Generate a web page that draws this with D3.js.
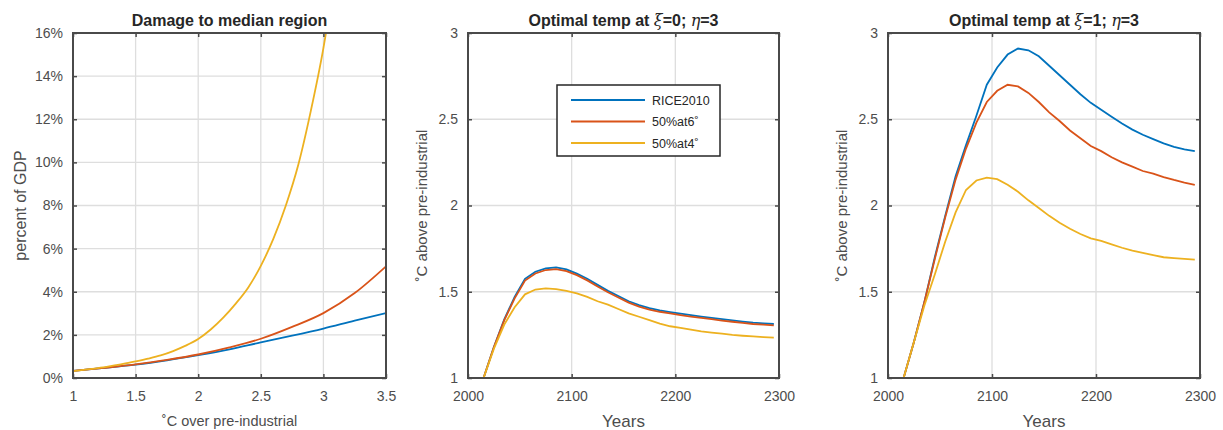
<!DOCTYPE html>
<html>
<head>
<meta charset="utf-8">
<script src="https://cdn.jsdelivr.net/npm/d3@7"></script>
<style>
  body { margin: 0; background: #fff; }
  svg { display: block; font-family: "Liberation Sans", Arial, sans-serif; }
</style>
</head>
<body>
<svg id="chart" width="1223" height="430"></svg>
<script>
// ---- data ----
const seriesNames = ["RICE2010", "50%at6\u02DA", "50%at4\u02DA"];
const seriesColors = ["#0072BD", "#D95319", "#EDB120"];

// panel 1: damage (% of GDP) vs degrees over pre-industrial
const tempBlueRed = [1.0, 1.25, 1.5, 1.75, 2.0, 2.25, 2.5, 2.75, 3.0, 3.25, 3.5];
const damageRice = [0.33, 0.47, 0.62, 0.82, 1.06, 1.33, 1.65, 1.96, 2.29, 2.66, 3.01];
const damage6 = [0.33, 0.47, 0.63, 0.84, 1.09, 1.42, 1.82, 2.37, 3.01, 3.94, 5.18];
const tempYellow = [1.0, 1.1, 1.2, 1.3, 1.4, 1.5, 1.6, 1.7, 1.8, 1.9, 2.0, 2.1, 2.2, 2.3, 2.4, 2.5, 2.6, 2.7, 2.8, 2.9, 3.0, 3.1];
const damage4 = [0.32, 0.39, 0.46, 0.55, 0.65, 0.77, 0.9, 1.05, 1.25, 1.5, 1.81, 2.25, 2.8, 3.45, 4.2, 5.2, 6.45, 8.0, 9.9, 12.4, 15.3, 19.0];

// panels 2 and 3: optimal temperature path
const years = [2015, 2025, 2035, 2045, 2055, 2065, 2075, 2085, 2095, 2105, 2115, 2125, 2135, 2145, 2155,
               2165, 2175, 2185, 2195, 2205, 2215, 2225, 2235, 2245, 2255, 2265, 2275, 2285, 2295];

const xi0Rice = [1.00, 1.18, 1.34, 1.47, 1.575, 1.616, 1.636, 1.641, 1.63, 1.605, 1.575, 1.54, 1.505, 1.475, 1.445,
                 1.422, 1.405, 1.392, 1.382, 1.373, 1.364, 1.356, 1.349, 1.341, 1.334, 1.327, 1.321, 1.317, 1.313];
const xi0At6 = [1.00, 1.18, 1.335, 1.462, 1.565, 1.606, 1.626, 1.631, 1.62, 1.596, 1.566, 1.531, 1.497, 1.467, 1.437,
                1.414, 1.397, 1.384, 1.374, 1.365, 1.356, 1.348, 1.341, 1.333, 1.326, 1.319, 1.313, 1.309, 1.305];
const xi0At4 = [1.00, 1.17, 1.31, 1.41, 1.485, 1.513, 1.52, 1.515, 1.505, 1.49, 1.47, 1.445, 1.425, 1.40, 1.375,
                1.355, 1.335, 1.315, 1.30, 1.29, 1.28, 1.27, 1.263, 1.257, 1.25, 1.245, 1.241, 1.237, 1.234];

const xi1Rice = [1.00, 1.21, 1.44, 1.70, 1.94, 2.17, 2.35, 2.52, 2.70, 2.80, 2.875, 2.91, 2.90, 2.865, 2.81,
                 2.755, 2.70, 2.645, 2.595, 2.555, 2.515, 2.475, 2.44, 2.41, 2.385, 2.36, 2.34, 2.325, 2.315];
const xi1At6 = [1.00, 1.21, 1.44, 1.69, 1.93, 2.15, 2.33, 2.48, 2.60, 2.665, 2.70, 2.69, 2.653, 2.60, 2.54,
                2.49, 2.435, 2.39, 2.345, 2.315, 2.28, 2.25, 2.225, 2.20, 2.185, 2.165, 2.148, 2.133, 2.12];
const xi1At4 = [1.00, 1.21, 1.42, 1.60, 1.79, 1.96, 2.09, 2.145, 2.162, 2.153, 2.12, 2.08, 2.03, 1.985, 1.94,
                1.90, 1.865, 1.835, 1.81, 1.795, 1.775, 1.755, 1.738, 1.725, 1.713, 1.70, 1.695, 1.69, 1.686];

const pctTicks = [0, 2, 4, 6, 8, 10, 12, 14, 16];
const tempTicks = [1, 1.5, 2, 2.5, 3, 3.5];
const yearTicks = [2000, 2100, 2200, 2300];
const degTicks = [1, 1.5, 2, 2.5, 3];

const svg = d3.select("#chart");
const plotTop = 33, plotBottom = 378;
const boxColor = "#4a4a4a";
const textColor = "#4d4d4d";

function drawPanel(p) {
    const x = d3.scaleLinear(p.xDomain, [p.left, p.right]);
    const y = d3.scaleLinear(p.yDomain, [plotBottom, plotTop]);
    const g = svg.append("g");

    // grid
    g.selectAll("line.gx").data(p.xTicks).join("line")
        .attr("x1", d => x(d)).attr("x2", d => x(d))
        .attr("y1", plotTop).attr("y2", plotBottom)
        .attr("stroke", "#dedede").attr("stroke-width", 1.3);
    g.selectAll("line.gy").data(p.yTicks).join("line")
        .attr("y1", d => y(d)).attr("y2", d => y(d))
        .attr("x1", p.left).attr("x2", p.right)
        .attr("stroke", "#dedede").attr("stroke-width", 1.3);

    // curves, clipped to the axes box
    const clipId = "clip" + p.id;
    svg.append("clipPath").attr("id", clipId)
        .append("rect")
        .attr("x", p.left).attr("y", plotTop)
        .attr("width", p.right - p.left).attr("height", plotBottom - plotTop);

    const line = d3.line().curve(p.curve || d3.curveLinear)
        .x(d => x(d[0])).y(d => y(d[1]));
    p.series.forEach(function (s, i) {
        g.append("path")
            .datum(d3.zip(s.x, s.y))
            .attr("clip-path", "url(#" + clipId + ")")
            .attr("fill", "none")
            .attr("stroke", seriesColors[i])
            .attr("stroke-width", 1.8)
            .attr("d", line);
    });

    // axes with inward ticks on every side
    const tk = 4;
    g.append("g").attr("transform", `translate(0,${plotBottom})`)
        .call(d3.axisBottom(x).tickValues(p.xTicks).tickSize(-tk).tickPadding(13).tickFormat(p.xFormat));
    g.append("g").attr("transform", `translate(0,${plotTop})`)
        .call(d3.axisTop(x).tickValues(p.xTicks).tickSize(-tk).tickFormat(""));
    g.append("g").attr("transform", `translate(${p.left},0)`)
        .call(d3.axisLeft(y).tickValues(p.yTicks).tickSize(-tk).tickPadding(10).tickFormat(p.yFormat));
    g.append("g").attr("transform", `translate(${p.right},0)`)
        .call(d3.axisRight(y).tickValues(p.yTicks).tickSize(-tk).tickFormat(""));

    g.selectAll(".domain").remove();
    g.selectAll(".tick line").attr("stroke", boxColor).attr("stroke-width", 1.5);
    g.selectAll(".tick text")
        .attr("fill", textColor)
        .style("font-size", "14px")
        .style("font-family", "'Liberation Sans', Arial, sans-serif");

    g.append("rect")
        .attr("x", p.left).attr("y", plotTop)
        .attr("width", p.right - p.left).attr("height", plotBottom - plotTop)
        .attr("fill", "none").attr("stroke", boxColor).attr("stroke-width", 2);

    // title
    const t = g.append("text")
        .attr("x", (p.left + p.right) / 2).attr("y", plotTop - 7)
        .attr("text-anchor", "middle")
        .attr("fill", "#262626")
        .style("font-size", "16px").style("font-weight", "bold");
    p.title.forEach(function (part) {
        const ts = t.append("tspan").text(part.text);
        if (part.greek) {
            ts.style("font-family", "'DejaVu Serif', serif")
              .style("font-style", "italic").style("font-weight", "normal");
        }
    });

    // axis labels
    g.append("text")
        .attr("x", (p.left + p.right) / 2).attr("y", p.xLabelY)
        .attr("text-anchor", "middle").attr("fill", textColor)
        .style("font-size", p.xLabelSize)
        .text(p.xLabel);
    g.append("text")
        .attr("transform", `translate(${p.yLabelX},${(plotTop + plotBottom) / 2}) rotate(-90)`)
        .attr("text-anchor", "middle").attr("fill", textColor)
        .style("font-size", p.yLabelSize)
        .text(p.yLabel);
    return { x: x, y: y };
}

drawPanel({
    id: 1, left: 73, right: 386,
    xDomain: [1, 3.5], yDomain: [0, 16],
    xTicks: tempTicks, yTicks: pctTicks,
    xFormat: d => String(d), yFormat: d => d + "%",
    title: [{ text: "Damage to median region" }],
    xLabel: "\u02DAC over pre-industrial", xLabelY: 426, xLabelSize: "14.5px",
    yLabel: "percent of GDP", yLabelX: 26, yLabelSize: "16px",
    curve: d3.curveMonotoneX,
    series: [
        { x: tempBlueRed, y: damageRice },
        { x: tempBlueRed, y: damage6 },
        { x: tempYellow, y: damage4 }
    ]
});

drawPanel({
    id: 2, left: 468, right: 779,
    xDomain: [2000, 2300], yDomain: [1, 3],
    xTicks: yearTicks, yTicks: degTicks,
    xFormat: d => String(d), yFormat: d => String(d),
    title: [{ text: "Optimal temp at " }, { text: "\u03BE", greek: true }, { text: "=0;  " },
            { text: "\u03B7", greek: true }, { text: "=3" }],
    xLabel: "Years", xLabelY: 427, xLabelSize: "17px",
    yLabel: "\u02DAC above pre-industrial", yLabelX: 427, yLabelSize: "15px",
    series: [
        { x: years, y: xi0Rice },
        { x: years, y: xi0At6 },
        { x: years, y: xi0At4 }
    ]
});

drawPanel({
    id: 3, left: 888, right: 1200,
    xDomain: [2000, 2300], yDomain: [1, 3],
    xTicks: yearTicks, yTicks: degTicks,
    xFormat: d => String(d), yFormat: d => String(d),
    title: [{ text: "Optimal temp at " }, { text: "\u03BE", greek: true }, { text: "=1;  " },
            { text: "\u03B7", greek: true }, { text: "=3" }],
    xLabel: "Years", xLabelY: 427, xLabelSize: "17px",
    yLabel: "\u02DAC above pre-industrial", yLabelX: 847, yLabelSize: "15px",
    series: [
        { x: years, y: xi1Rice },
        { x: years, y: xi1At6 },
        { x: years, y: xi1At4 }
    ]
});

// legend in the middle panel
const legend = svg.append("g").attr("transform", "translate(557,85)");
legend.append("rect")
    .attr("width", 163).attr("height", 71)
    .attr("fill", "#fff").attr("stroke", "#262626").attr("stroke-width", 1.5);
seriesNames.forEach(function (name, i) {
    const yy = 15 + i * 21.5;
    legend.append("line")
        .attr("x1", 14).attr("x2", 88).attr("y1", yy).attr("y2", yy)
        .attr("stroke", seriesColors[i]).attr("stroke-width", 1.8);
    legend.append("text")
        .attr("x", 95).attr("y", yy + 4.5)
        .attr("fill", "#262626").style("font-size", "12.5px")
        .text(name);
});
</script>
</body>
</html>
